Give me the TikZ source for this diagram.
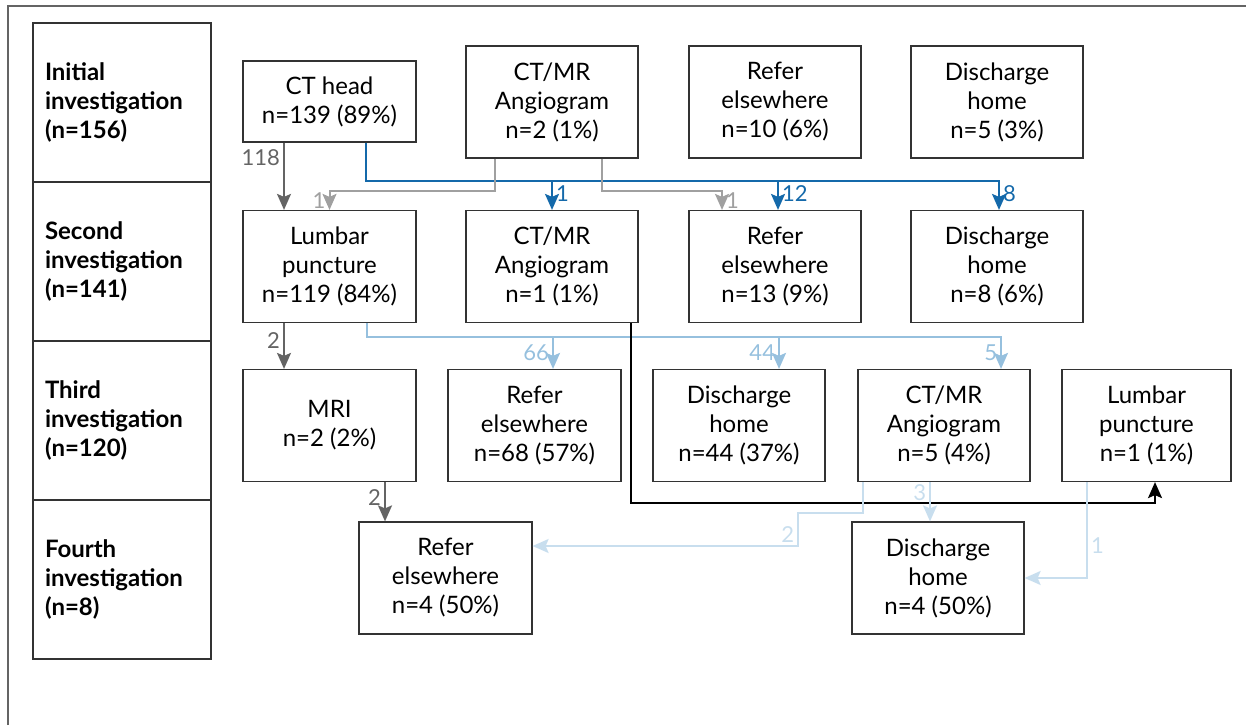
\documentclass[tikz,border=0pt]{standalone}
\usepackage{fontspec}
\setmainfont{Lato}
\usetikzlibrary{arrows.meta}
\definecolor{dkgrey}{RGB}{100,100,100}
\definecolor{ltgrey}{RGB}{160,160,160}
\definecolor{midblue}{RGB}{20,105,170}
\definecolor{ltblue}{RGB}{150,192,222}
\definecolor{paleblue}{RGB}{200,222,238}

\begin{document}
\begin{tikzpicture}[x=1pt,y=-1pt,
    box/.style={draw=black!80,line width=1.2pt,minimum width=172pt,minimum height=112pt,
        inner sep=0pt,align=center,font=\fontsize{24}{29}\selectfont},
    stage/.style={draw=black!80,line width=1.2pt,minimum height=159pt,text width=154pt,
        inner xsep=12pt,align=left,font=\bfseries\fontsize{24}{29}\selectfont},
    flow/.style={line width=2pt,-{Stealth[length=16pt,width=14pt,inset=3pt]}},
    num/.style={font=\fontsize{22}{24}\selectfont,inner sep=3pt}]
    \useasboundingbox (0,0) rectangle (1246,725);
    \draw[dkgrey,line width=1.5pt] (8,725) -- (8,6) -- (1246,6);

    % stages
    \foreach[count=\i,evaluate={\yc=102.5+159*(\i-1)}] \t in
        {{Initial\\investigation\\(n=156)},{Second\\investigation\\(n=141)},
         {Third\\investigation\\(n=120)},{Fourth\\investigation\\(n=8)}}
        \node[stage] (st\i) at (122,\yc) {\t};

    % first row
    \node[box,minimum width=173pt,minimum height=81pt] (ct1) at (329.5,101.5) {CT head\\n=139 (89\%)};
    \node[box] (ang1) at (552,102) {CT/MR\\Angiogram\\n=2 (1\%)};
    \node[box] (ref1) at (775,102) {Refer\\elsewhere\\n=10 (6\%)};
    \node[box] (dis1) at (997,102) {Discharge\\home\\n=5 (3\%)};
    % second row
    \node[box,minimum width=173pt] (lp2) at (329.5,266.5) {Lumbar\\puncture\\n=119 (84\%)};
    \node[box] (ang2) at (552,266.5) {CT/MR\\Angiogram\\n=1 (1\%)};
    \node[box] (ref2) at (775,266.5) {Refer\\elsewhere\\n=13 (9\%)};
    \node[box] (dis2) at (997,266.5) {Discharge\\home\\n=8 (6\%)};
    % third row
    \node[box,minimum width=173pt] (mri3) at (329.5,425.5) {MRI\\n=2 (2\%)};
    \node[box,minimum width=173pt] (ref3) at (534.5,425.5) {Refer\\elsewhere\\n=68 (57\%)};
    \node[box] (dis3) at (739,425.5) {Discharge\\home\\n=44 (37\%)};
    \node[box] (ang3) at (944,425.5) {CT/MR\\Angiogram\\n=5 (4\%)};
    \node[box,minimum width=169pt] (lp3) at (1146.5,425.5) {Lumbar\\puncture\\n=1 (1\%)};
    % fourth row
    \node[box,minimum width=173pt] (ref4) at (445.5,578) {Refer\\elsewhere\\n=4 (50\%)};
    \node[box] (dis4) at (938,578) {Discharge\\home\\n=4 (50\%)};

    \coordinate (busA) at (0,181);
    \coordinate (busC) at (0,337);
    \coordinate (busD) at (0,503);
    \coordinate (bend2) at (798,513);

    % from CT head
    \draw[flow,dkgrey] ([xshift=-45.5pt]ct1.south) -- ([xshift=-45.5pt]lp2.north) node[num,left,pos=0.22]{118};
    \draw[flow,midblue] ([xshift=36.5pt]ct1.south) |- ([xshift=2pt]dis2.north |- busA) -- ([xshift=2pt]dis2.north)
        node[num,right,pos=0.45]{8};
    \draw[flow,midblue] (ang2.north |- busA) -- (ang2.north) node[num,right,pos=0.45]{1};
    \draw[flow,midblue] ([xshift=3pt]ref2.north |- busA) -- ([xshift=3pt]ref2.north) node[num,right,pos=0.45]{12};
    % from angiogram
    \draw[flow,ltgrey] ([xshift=-57pt]ang1.south) |- ([yshift=19pt]lp2.north) -- (lp2.north) node[num,left,pos=0.5]{1};
    \draw[flow,ltgrey] ([xshift=50pt]ang1.south) |- ([xshift=-53pt,yshift=19pt]ref2.north) -- ([xshift=-53pt]ref2.north)
        node[num,right,pos=0.5]{1};

    % from lumbar puncture
    \draw[flow,dkgrey] ([xshift=-45.5pt]lp2.south) -- ([xshift=-45.5pt]mri3.north) node[num,left,pos=0.38]{2};
    \draw[flow,ltblue] ([xshift=37.5pt]lp2.south) |- ([xshift=57pt]ang3.north |- busC) -- ([xshift=57pt]ang3.north)
        node[num,left,pos=0.5]{5};
    \draw[flow,ltblue] ([xshift=18.5pt]ref3.north |- busC) -- ([xshift=18.5pt]ref3.north) node[num,left,pos=0.5]{66};
    \draw[flow,ltblue] ([xshift=40pt]dis3.north |- busC) -- ([xshift=40pt]dis3.north) node[num,left,pos=0.5]{44};
    % from second angiogram
    \draw[flow,black] ([xshift=79pt]ang2.south) |- ([xshift=8.5pt]lp3.south |- busD) -- ([xshift=8.5pt]lp3.south);

    % fourth investigation
    \draw[flow,dkgrey] ([xshift=55.5pt]mri3.south) -- ([xshift=-60.5pt]ref4.north) node[num,left,pos=0.38]{2};
    \draw[flow,paleblue] ([xshift=-81pt]ang3.south) |- (bend2) |- ([yshift=32pt]ref4.east) node[num,left,pos=0.33]{2};
    \draw[flow,paleblue] ([xshift=-14pt]ang3.south) -- ([xshift=-8pt]dis4.north) node[num,left,pos=0.28]{3};
    \draw[flow,paleblue] ([xshift=-59.5pt]lp3.south) |- (dis4.east) node[num,right,pos=0.33]{1};
\end{tikzpicture}
\end{document}
